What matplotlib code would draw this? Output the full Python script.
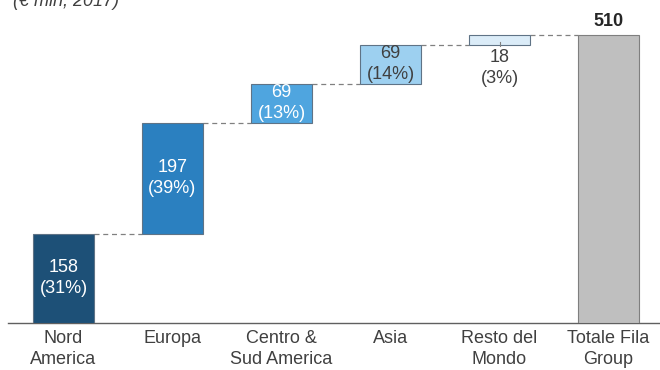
import matplotlib.pyplot as plt

plt.rcParams['font.family'] = ['Liberation Sans', 'DejaVu Sans']

categories = ["Nord\nAmerica", "Europa", "Centro &\nSud America", "Asia", "Resto del\nMondo", "Totale Fila\nGroup"]
values = [158, 197, 69, 69, 18]
shares = [31, 39, 13, 14, 3]
total = 510

colors = ["#1d5077", "#2b80c0", "#4fa5df", "#9dd0f0", "#dbecf8"]
label_colors = ["white", "white", "white", "#404040", "#404040"]
total_color = "#bfbfbf"
edge = "#5f7386"
text_dark = "#404040"
fs = 13
ls = 1.3

fig = plt.figure(figsize=(6.6, 3.7), dpi=100)
ax = fig.add_axes([8 / 660, 47 / 370, 652 / 660, 316 / 370])

width = 0.56
bottom = 0
for i, (v, s) in enumerate(zip(values, shares)):
    ax.bar(i, v, width, bottom=bottom, color=colors[i], edgecolor=edge, linewidth=0.8, zorder=3)
    top = bottom + v
    # connector to the next bar
    ax.plot([i + width / 2, i + 1 - width / 2], [top, top], color="#808080",
            linestyle=(0, (4, 3)), linewidth=0.9, zorder=2)
    label = f"{v}\n({s}%)"
    if v > 40:
        ax.text(i, bottom + v / 2, label, ha="center", va="center", fontsize=fs,
                color=label_colors[i], linespacing=ls, zorder=4)
    else:
        ax.plot([i, i], [bottom + v * 0.3, bottom - 2], color="#808080", linewidth=0.8, zorder=4)
        ax.text(i, bottom - 7, label, ha="center", va="top", fontsize=fs,
                color=label_colors[i], linespacing=ls, zorder=4)
    bottom = top

n = len(values)
ax.bar(n, total, width, color=total_color, edgecolor="#7f7f7f", linewidth=0.8, zorder=3)
ax.text(n, total + 9, f"{total}", ha="center", va="bottom", fontsize=fs,
        fontweight="bold", color="#262626")

ax.set_xlim(-0.509, 5.472)
ax.set_ylim(0, 560)
ax.set_xticks(range(len(categories)))
ax.set_xticklabels(categories, fontsize=fs, color=text_dark, linespacing=ls)
ax.tick_params(axis="x", length=0, pad=5)
ax.set_yticks([])
for side in ["top", "right", "left"]:
    ax.spines[side].set_visible(False)
ax.spines["bottom"].set_color("#606060")
ax.spines["bottom"].set_linewidth(1.0)

fig.text(13 / 660, 1 - 6 / 370, "(€ mln, 2017)", ha="left", va="baseline",
         fontsize=fs, style="italic", color=text_dark)

fig.savefig("out.png", dpi=100)
